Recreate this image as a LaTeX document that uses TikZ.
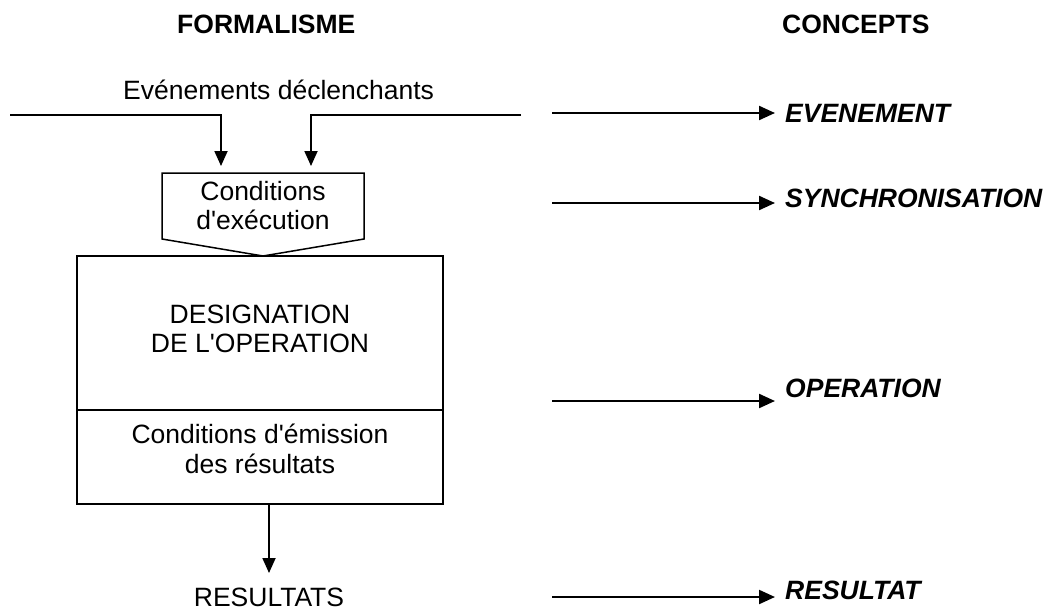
\documentclass[tikz,border=0pt]{standalone}
\usepackage{fontspec}
% family without TeX ligatures, so that ' stays a straight apostrophe
\newfontfamily\arialike{Liberation Sans}
\usetikzlibrary{arrows.meta}
\begin{document}
\begin{tikzpicture}[x=1pt,y=-1pt,
  txt/.style={inner sep=0pt,font=\arialike\fontsize{26.5}{30}\selectfont},
  head/.style={txt,font=\arialike\fontsize{26.5}{30}\selectfont\bfseries},
  concept/.style={txt,anchor=base west,font=\arialike\fontsize{26.5}{30}\selectfont\bfseries\itshape},
  frame/.style={line width=1.5pt,line join=miter},
  flow/.style={line width=1.8pt,-{Triangle[length=15pt,width=13pt]}},
  maps/.style={line width=2.2pt,-{Triangle[length=16pt,width=14pt]}}]
\useasboundingbox (0,0) rectangle (1047,611);

% column headings
\node[head,anchor=base west] (formalisme) at (177,33) {FORMALISME};
\node[head,anchor=base west] (concepts) at (782,33) {CONCEPTS};

% triggering events
\node[txt,anchor=base west] (evts) at (123,99) {Evénements déclenchants};
\coordinate (inL) at (10,115);
\coordinate (inR) at (521,115);
\coordinate (kneeL) at (221,115);
\coordinate (kneeR) at (311,115);
\coordinate (tipL) at (221,166);
\coordinate (tipR) at (311,166);
\draw[flow] (inL) -- (kneeL) -- (tipL);
\draw[flow] (inR) -- (kneeR) -- (tipR);

% execution conditions (pentagon)
\draw[frame] (162,173) -- (364,173) -- (364,239) -- (263,256) -- (162,239) -- cycle;
\node[txt,anchor=base] (cond1) at (263,200) {Conditions};
\node[txt,anchor=base] (cond2) at (263,229) {d'exécution};

% operation box
\coordinate (boxNW) at (77,256);
\coordinate (boxSE) at (443,504);
\draw[frame] (boxNW) rectangle (boxSE);
\draw[frame] (77,410) -- (443,410);
\node[txt,anchor=base] (desig1) at (260,323) {DESIGNATION};
\node[txt,anchor=base] (desig2) at (260,352) {DE L'OPERATION};
\node[txt,anchor=base] (emis1) at (260,443) {Conditions d'émission};
\node[txt,anchor=base] (emis2) at (260,473) {des résultats};

% results
\coordinate (outTop) at (269,504);
\coordinate (outTip) at (269,573);
\draw[flow] (outTop) -- (outTip);
\node[txt,anchor=base] (resultats) at (269,606) {RESULTATS};

% concept mapping arrows
\node[concept] (cEvt) at (785,122) {EVENEMENT};
\node[concept] (cSync) at (785,207) {SYNCHRONISATION};
\node[concept] (cOp) at (785,397) {OPERATION};
\node[concept] (cRes) at (785,599) {RESULTAT};
\coordinate (a1) at (552,113);
\coordinate (a2) at (552,203);
\coordinate (a3) at (552,401);
\coordinate (a4) at (552,597);
\draw[maps] (a1) -- ([xshift=-10pt]a1 -| cEvt.west);
\draw[maps] (a2) -- ([xshift=-10pt]a2 -| cSync.west);
\draw[maps] (a3) -- ([xshift=-10pt]a3 -| cOp.west);
\draw[maps] (a4) -- ([xshift=-10pt]a4 -| cRes.west);
\end{tikzpicture}
\end{document}
